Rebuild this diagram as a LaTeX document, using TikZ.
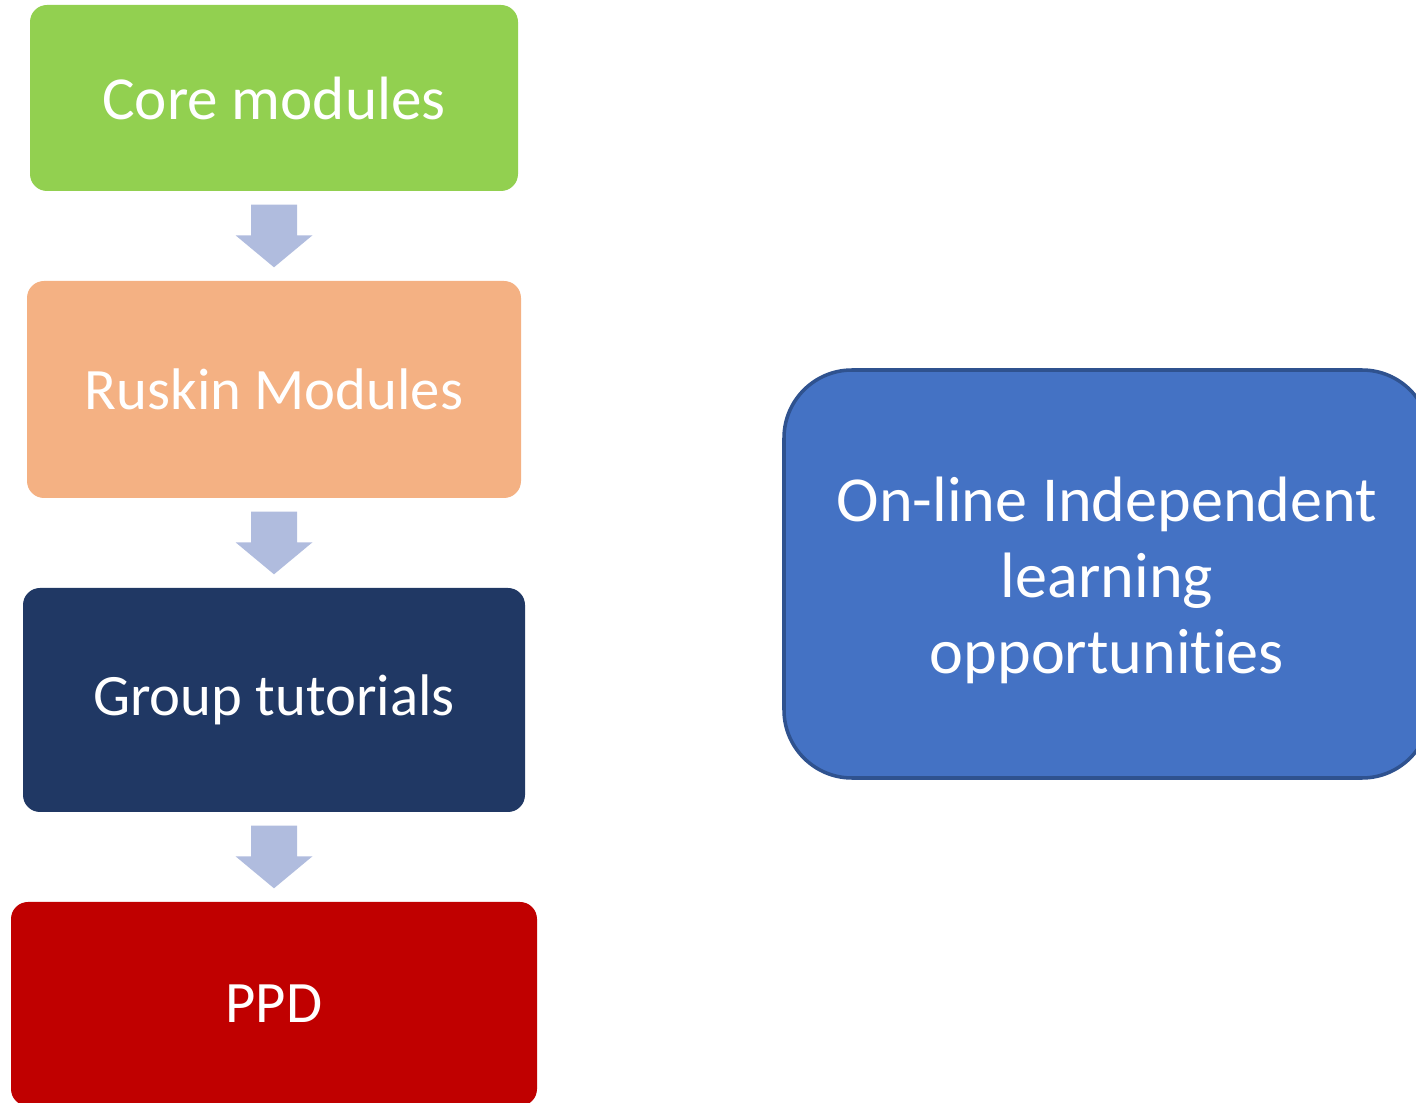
\documentclass[tikz,border=0pt]{standalone}
\usepackage{fontspec}
\setmainfont{Carlito}[Ligatures=NoCommon]
\usepackage{tikz}
\usetikzlibrary{calc}
\definecolor{coregreen}{RGB}{146,208,80}
\definecolor{ruskinorange}{RGB}{244,177,131}
\definecolor{tutnavy}{RGB}{32,56,100}
\definecolor{ppdred}{RGB}{192,0,0}
\definecolor{onlineblue}{RGB}{68,114,196}
\definecolor{onlineedge}{RGB}{47,82,143}
\definecolor{arrowblue}{RGB}{176,188,222}
\tikzstyle{every stepbox}=[rectangle, rounded corners=0.17cm, text=white, align=center, font=\fontsize{16.7}{21.6}\selectfont]
\newcommand{\blockarrow}[2]{%
  \path let \p1=($(#1.south)+(0,-0.13)$), \p2=($(#2.north)+(0,0.13)$) in
    [fill=arrowblue] (\x1-0.23cm,\y1) -- (\x1+0.23cm,\y1) -- (\x1+0.23cm,\y2+0.32cm)
    -- (\x1+0.385cm,\y2+0.32cm) -- (\x1,\y2) -- (\x1-0.385cm,\y2+0.32cm)
    -- (\x1-0.23cm,\y2+0.32cm) -- cycle;}

\begin{document}
\begin{tikzpicture}
   \useasboundingbox (0,0) rectangle (14.16,-11.03);
   \begin{scope}
   \clip (0,0) rectangle (14.16,-11.03);
   \node[every stepbox, fill=coregreen, font=\fontsize{17.4}{21.6}\selectfont, minimum width=4.88cm, minimum height=1.86cm] (core) at (2.74,-0.98) {Core modules};
   \node[every stepbox, fill=ruskinorange, minimum width=4.94cm, minimum height=2.17cm] (ruskin) at (2.74,-3.895) {Ruskin Modules};
   \node[every stepbox, fill=tutnavy, minimum width=5.02cm, minimum height=2.24cm] (tutorials) at (2.74,-7.00) {Group tutorials};
   \node[every stepbox, fill=ppdred, minimum width=5.26cm, minimum height=2.04cm] (ppd) at (2.74,-10.04) {PPD};
   % free-standing box on the right
   \node[every stepbox, rounded corners=0.68cm, fill=onlineblue, draw=onlineedge, line width=1pt,
         font=\fontsize{18.25}{21.6}\selectfont, minimum width=6.46cm, minimum height=4.08cm] (online) at (11.07,-5.74)
         {\rule{0pt}{16.5pt}On-line Independent\\learning\\opportunities};

   \blockarrow{core}{ruskin}
   \blockarrow{ruskin}{tutorials}
   \blockarrow{tutorials}{ppd}
   \end{scope}
\end{tikzpicture}
\end{document}
